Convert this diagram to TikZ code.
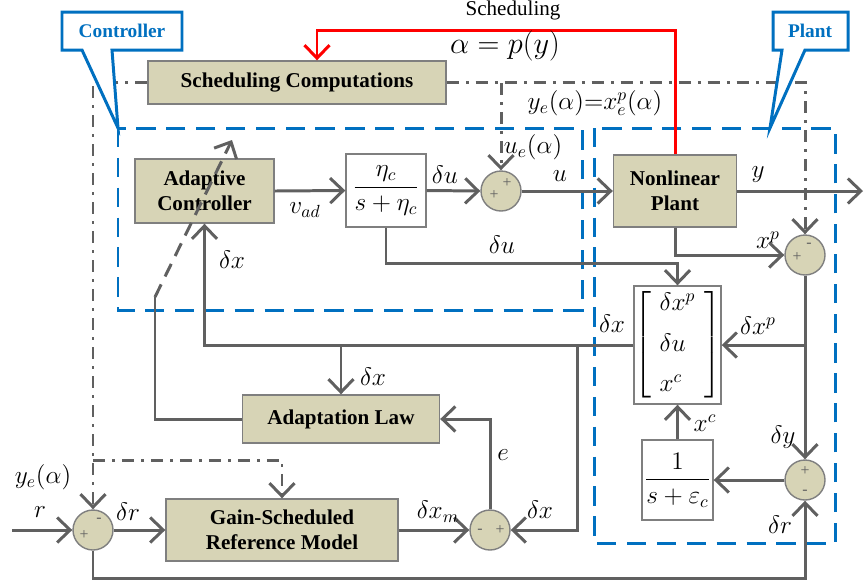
\documentclass[tikz,border=0pt]{standalone}
\usepackage{amsmath}
\usepackage{fontspec}
\setmainfont{Liberation Serif}
\usetikzlibrary{arrows.meta, positioning, calc}
\definecolor{boxTan}{HTML}{D7D4B6}
\definecolor{lineGray}{HTML}{606060}
\definecolor{edgeGray}{HTML}{7F7F7F}
\definecolor{frameBlue}{HTML}{0070C0}

\begin{document}
\begin{tikzpicture}[x=0.02cm, y=-0.02cm,
  blk/.style={draw=edgeGray, fill=boxTan, line width=0.8pt, align=center, inner sep=0pt,
    font=\bfseries\fontsize{12}{14}\selectfont},
  tfbox/.style={draw=edgeGray, fill=white, line width=0.8pt, inner sep=0pt, font=\Large},
  sumnode/.style={circle, draw=edgeGray, fill=boxTan, line width=0.8pt, minimum size=0.8cm, inner sep=0pt},
  sgn/.style={font=\small, text=lineGray, inner sep=0pt},
  wire/.style={draw=lineGray, line width=1.7pt},
  sig/.style={wire, -{Straight Barb[length=2.6mm, width=5mm]}},
  schedline/.style={draw=lineGray, line width=1.7pt, dash pattern=on 7pt off 4pt on 1.5pt off 4pt},
  lbl/.style={font=\Large, inner sep=1pt},
  frame/.style={draw=frameBlue, line width=1.7pt, dash pattern=on 11pt off 6pt},
  callout/.style={draw=frameBlue, fill=white, line width=1.7pt},
  tagtext/.style={text=frameBlue, font=\bfseries\fontsize{11}{13}\selectfont}]
  \useasboundingbox (0,0) rectangle (865,586);

  % dashed frames
  \draw[frame] (118,128) rectangle (582,310);
  \draw[frame] (594,128) rectangle (835,543);

  % blocks
  \node[blk, minimum width=5.96cm, minimum height=0.86cm] (sched) at (297,82.5) {Scheduling Computations};
  \node[blk, minimum width=2.78cm, minimum height=1.28cm] (ac) at (204.5,191) {Adaptive\\Controller};
  \node[tfbox, minimum width=1.6cm, minimum height=1.46cm] (tf) at (386,190.5) {$\dfrac{\eta_c}{s+\eta_c}$};
  \node[sumnode] (sumu) at (501,191) {};
  \node[blk, minimum width=2.46cm, minimum height=1.44cm] (np) at (675,191) {Nonlinear\\Plant};
  \node[sumnode] (sum2) at (805,255) {};
  \node[tfbox, minimum width=1.38cm, minimum height=2.36cm] (vec) at (677.5,345)
    {$\left[\begin{array}{l}\delta x^p\\[5pt]\delta u\\[5pt]x^c\end{array}\right]$};
  \node[sumnode] (sum3) at (805,480) {};
  \node[tfbox, minimum width=1.42cm, minimum height=1.6cm] (tfc) at (677.5,480) {$\dfrac{1}{s+\varepsilon_c}$};
  \node[blk, minimum width=3.94cm, minimum height=0.96cm] (adapt) at (341,419) {Adaptation Law};
  \node[sumnode] (sume) at (490,530) {};
  \node[blk, minimum width=4.64cm, minimum height=1.24cm] (gsrm) at (282,530) {Gain-Scheduled\\Reference Model};
  \node[sumnode] (sumr) at (93,530) {};

  % signs
  \node[sgn] (su1) at (507,183) {+};
  \node[sgn] (su2) at (494,195) {+};
  \node[sgn] (s21) at (809,245) {-};
  \node[sgn] (s22) at (797,257) {+};
  \node[sgn] (s31) at (805,471) {+};
  \node[sgn] (s32) at (805,492) {-};
  \node[sgn] (se1) at (480,531) {-};
  \node[sgn] (se2) at (500,530) {+};
  \node[sgn] (sr1) at (84,535) {+};
  \node[sgn] (sr2) at (99,520) {-};

  % forward path
  \draw[sig] (ac.east) -- (tf.west);
  \draw[sig] (tf.east) -- (sumu.west);
  \draw[sig] (sumu.east) -- (np.west);
  \coordinate (yout) at (863,191);
  \draw[sig] (np.east) -- (yout);
  \draw[sig] (np.south) |- (sum2.west);
  \coordinate (xpsplit) at (805,345);
  \draw[wire] (sum2.south) -- (xpsplit);
  \draw[sig] (xpsplit) -- (sum3.north);
  \draw[sig] (xpsplit) -- (vec.east);
  \draw[sig] (tf.south) -- ++(0,36) -| (vec.north);
  \draw[sig] (sum3.west) -- (tfc.east);
  \draw[sig] (tfc.north) -- (vec.south);

  % feedback of dx
  \draw[sig] (vec.west) -| (ac.south);
  \coordinate (dxa) at (341,345);
  \draw[sig] (dxa) -- (adapt.north);
  \coordinate (dxe) at (577,345);
  \draw[sig] (dxe) |- (sume.east);
  \draw[sig] (sume.north) |- (adapt.east);
  \coordinate (adbend) at (155,297);
  \coordinate (adtip) at (232,140);
  \draw[wire] (adapt.west) -| (adbend);
  \draw[sig, dash pattern=on 8pt off 5pt] (adbend) -- (adtip);

  % reference model
  \coordinate (rin) at (12,530);
  \draw[sig] (rin) -- (sumr.west);
  \draw[sig] (sumr.east) -- (gsrm.west);
  \draw[sig] (gsrm.east) -- (sume.west);
  \coordinate (fbot) at (805,578);
  \draw[sig] (sumr.south) |- (fbot) -- (sum3.south);

  % scheduling signals
  \draw[schedline, -{Straight Barb[length=2.6mm, width=5mm]}] (sched.east) -| (sum2.north);
  \coordinate (dsu) at (501,83);
  \draw[schedline, -{Straight Barb[length=2.6mm, width=5mm]}] (dsu) -- (sumu.north);
  \draw[schedline, -{Straight Barb[length=2.6mm, width=5mm]}] (sched.west) -| (sumr.north);
  \coordinate (dgs) at (93,460);
  \draw[schedline, -{Straight Barb[length=2.6mm, width=5mm]}] (dgs) -| (gsrm.north);
  \coordinate (redtop) at (317,30);
  \draw[sig, draw=red] (np.north) |- (redtop) -- ($(sched.north)+(20,0)$);

  % callouts
  \draw[callout] (62,12) -- (182,12) -- (182,50) -- (112,50) -- (118,128) -- (82,50) -- (62,50) -- cycle;
  \node[tagtext] (ctrltag) at (122,31) {Controller};
  \draw[callout] (773,12) -- (848,12) -- (848,50) -- (805,50) -- (770,128) -- (782,50) -- (773,50) -- cycle;
  \node[tagtext] (planttag) at (810,31) {Plant};

  % labels
  \node[font=\large] (schedlbl) at (513,10) {Scheduling};
  \node[font=\LARGE, inner sep=1pt] (alphalbl) at (505,46) {$\alpha = p(y)$};
  \node[lbl] (yelbl) at (595,103) {$y_e(\alpha){=}x_e^p(\alpha)$};
  \node[lbl] (uelbl) at (533,147) {$u_e(\alpha)$};
  \node[lbl] (vadlbl) at (305,210) {$v_{ad}$};
  \node[lbl] (du1lbl) at (445,175) {$\delta u$};
  \node[lbl] (ulbl) at (560,176) {$u$};
  \node[lbl] (ylbl) at (758,175) {$y$};
  \node[lbl] (xplbl) at (768,240) {$x^p$};
  \node[lbl] (du2lbl) at (502,245) {$\delta u$};
  \node[lbl] (dx1lbl) at (232,260) {$\delta x$};
  \node[lbl] (dx2lbl) at (612,324) {$\delta x$};
  \node[lbl] (dxplbl) at (758,326) {$\delta x^p$};
  \node[lbl] (dx3lbl) at (373,377) {$\delta x$};
  \node[lbl] (elbl) at (503,455) {$e$};
  \node[lbl] (dxmlbl) at (438,512) {$\delta x_m$};
  \node[lbl] (dx4lbl) at (540,510) {$\delta x$};
  \node[lbl] (xclbl) at (705,423) {$x^c$};
  \node[lbl] (dylbl) at (783,437) {$\delta y$};
  \node[lbl] (dr2lbl) at (780,525) {$\delta r$};
  \node[lbl] (yerlbl) at (43,477) {$y_e(\alpha)$};
  \node[lbl] (rlbl) at (40,512) {$r$};
  \node[lbl] (dr1lbl) at (128,512) {$\delta r$};
\end{tikzpicture}
\end{document}
